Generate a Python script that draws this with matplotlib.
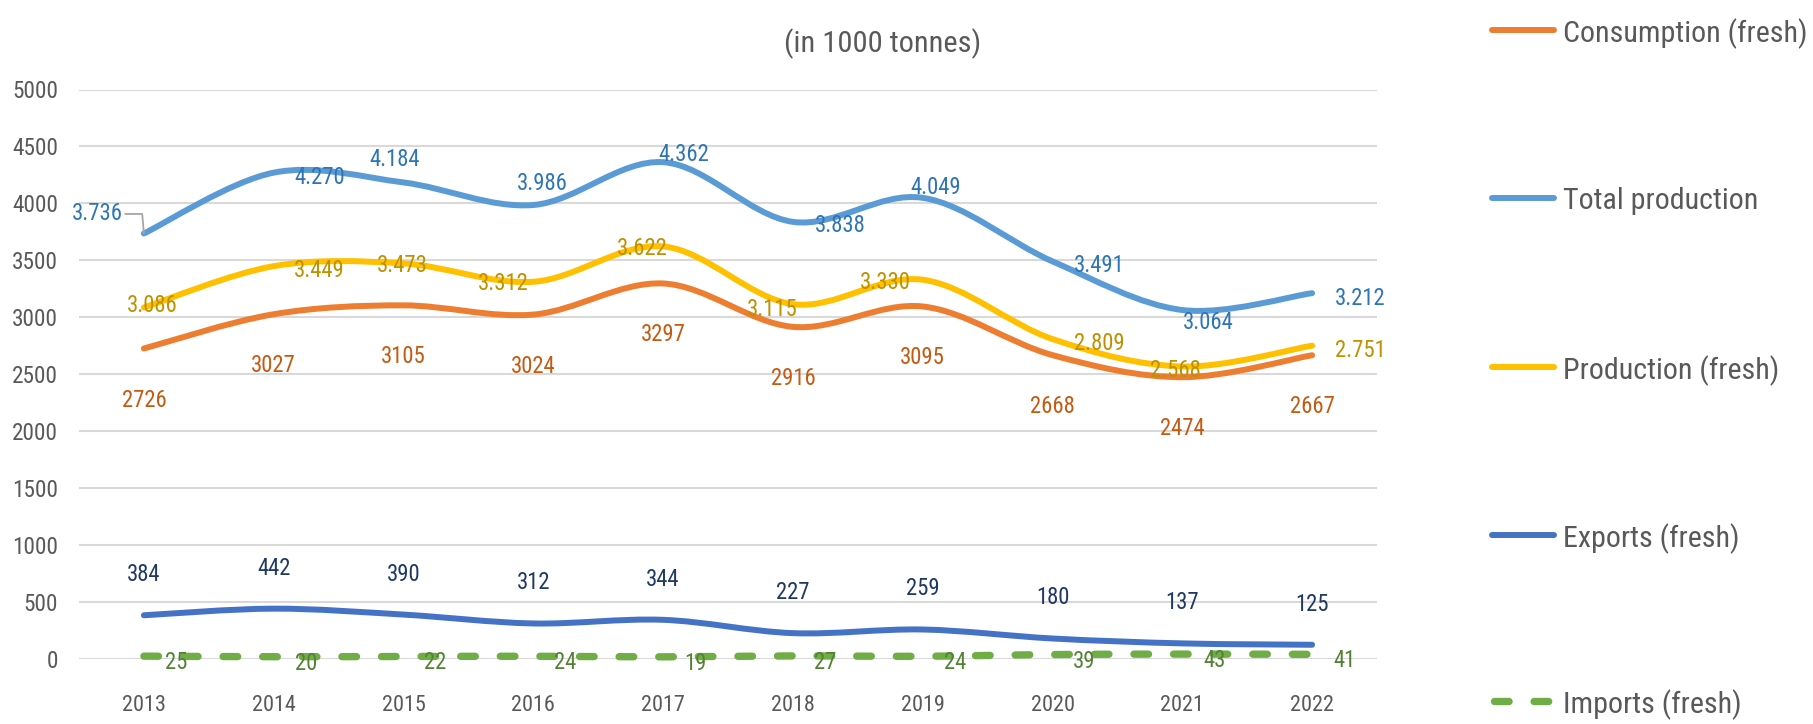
import matplotlib
matplotlib.use('Agg')
import matplotlib.pyplot as plt
from matplotlib.path import Path
from matplotlib.patches import PathPatch
from matplotlib.lines import Line2D
from matplotlib.font_manager import FontProperties, fontManager

# ---------------- data ----------------
years = ['2013', '2014', '2015', '2016', '2017', '2018', '2019', '2020', '2021', '2022']
consumption = [2726, 3027, 3105, 3024, 3297, 2916, 3095, 2668, 2474, 2667]
total_production = [3736, 4270, 4184, 3986, 4362, 3838, 4049, 3491, 3064, 3212]
production_fresh = [3086, 3449, 3473, 3312, 3622, 3115, 3330, 2809, 2568, 2751]
exports = [384, 442, 390, 312, 344, 227, 259, 180, 137, 125]
imports = [25, 20, 22, 24, 19, 27, 24, 39, 43, 41]
y_ticks = [0, 500, 1000, 1500, 2000, 2500, 3000, 3500, 4000, 4500, 5000]
series_names = ['Consumption (fresh)', 'Total production', 'Production (fresh)',
                'Exports (fresh)', 'Imports (fresh)']
title_text = '(in 1000 tonnes)'

# ---------------- styling / layout ----------------
W, H, DPI = 1813, 724, 100
AX_L, AX_R, AX_T, AX_B = 79, 1377, 89.5, 659

c_cons, c_tot, c_prod, c_exp, c_imp = '#ED7D31', '#5B9BD5', '#FFC000', '#4472C4', '#70AD47'
lc_cons, lc_tot, lc_prod, lc_exp, lc_imp = '#C55A11', '#2E75B6', '#BF9000', '#1F3864', '#548235'
grey_txt = '#595959'
grid_col = '#D9D9D9'

# label offsets in pixels (dx right, dy down)
off_tot = [(-47, -22), (46, 2), (-9, -25), (9, -24), (21, -10), (47, 1), (13, -13), (47, 2), (26, 10), (48, 3)]
off_prod = [(8, -5), (46, 2), (-1, 0), (-30, -1), (-21, 0), (-21, 3), (-37, 0), (47, 2), (-7, 1.5), (48, 2)]
off_cons = [(0, 49)] * 10
off_exp = [(0, -43)] * 10
off_imp = [(32, 4)] * 10

avail = {f.name for f in fontManager.ttflist}
FONT = 'DejaVu Sans'
for cand in ['Liberation Sans Narrow', 'Roboto Condensed', 'Open Sans Condensed', 'Liberation Sans']:
    if cand in avail:
        FONT = cand
        break

fig = plt.figure(figsize=(W / DPI, H / DPI), dpi=DPI)
fig.patch.set_facecolor('white')
renderer = fig.canvas.get_renderer()


def fitted_size(sample, target_px, base=20.0):
    fp = FontProperties(family=FONT, size=base, stretch='condensed')
    w, h, d = renderer.get_text_width_height_descent(sample, fp, ismath=False)
    return base * target_px / w


def fprop(size):
    return FontProperties(family=FONT, size=size, stretch='condensed')


fs_legend = fitted_size('Consumption (fresh)', 244)
fs_title = fitted_size(title_text, 196)
fs_label = fitted_size('3.736', 51)
fs_ytick = fitted_size('5000', 46)
fs_xtick = fitted_size('2013', 44)

ax = fig.add_axes([AX_L / W, 1 - AX_B / H, (AX_R - AX_L) / W, (AX_B - AX_T) / H])
ax.set_xlim(-0.5, len(years) - 0.5)
ax.set_ylim(0, 5000)
for s in ax.spines.values():
    s.set_visible(False)
ax.set_yticks(y_ticks)
ax.set_yticklabels([str(t) for t in y_ticks], fontproperties=fprop(fs_ytick), color=grey_txt)
ax.set_xticks(range(len(years)))
ax.set_xticklabels(years, fontproperties=fprop(fs_xtick), color=grey_txt)
ax.tick_params(axis='y', length=0, pad=21 * 72 / DPI)
ax.tick_params(axis='x', length=0, pad=36 * 72 / DPI)
ax.grid(axis='y', color=grid_col, lw=1.5, zorder=0)
ax.set_axisbelow(True)


def smooth_path(vals):
    pts = [(i, v) for i, v in enumerate(vals)]
    n = len(pts)
    verts = [pts[0]]
    codes = [Path.MOVETO]
    for i in range(n - 1):
        p0 = pts[max(i - 1, 0)]
        p1 = pts[i]
        p2 = pts[i + 1]
        p3 = pts[min(i + 2, n - 1)]
        c1 = (p1[0] + (p2[0] - p0[0]) / 6.0, p1[1] + (p2[1] - p0[1]) / 6.0)
        c2 = (p2[0] - (p3[0] - p1[0]) / 6.0, p2[1] - (p3[1] - p1[1]) / 6.0)
        verts += [c1, c2, p2]
        codes += [Path.CURVE4] * 3
    return Path(verts, codes)


LW = 4.3
IMP_LW = 5.3
imp_dash = (0, (1.98, 3.4))

series = [
    (consumption, c_cons, '-', LW, 3),
    (total_production, c_tot, '-', LW, 4),
    (production_fresh, c_prod, '-', LW, 5),
    (exports, c_exp, '-', LW, 6),
    (imports, c_imp, imp_dash, IMP_LW, 7),
]
for vals, col, ls, lw, z in series:
    patch = PathPatch(smooth_path(vals), fill=False, edgecolor=col, lw=lw, linestyle=ls,
                      capstyle='round', joinstyle='round', zorder=z, clip_on=False)
    ax.add_patch(patch)


def dot_fmt(v):
    return f'{v:,}'.replace(',', '.')


def p2pt(v):
    return v * 72.0 / DPI


lab_fp = fprop(fs_label)


def add_labels(vals, offs, col, fmt, leader_first=False):
    for i, (v, (dx, dy)) in enumerate(zip(vals, offs)):
        kw = {}
        if leader_first and i == 0:
            kw['arrowprops'] = dict(arrowstyle='-', color='#A6A6A6', lw=1.3, shrinkA=0, shrinkB=0,
                                    connectionstyle='angle,angleA=0,angleB=95,rad=0')
        ax.annotate(fmt(v), xy=(i, v), xytext=(p2pt(dx), -p2pt(dy)), textcoords='offset points',
                    ha='center', va='center_baseline', color=col, fontproperties=lab_fp,
                    zorder=20, annotation_clip=False, **kw)


add_labels(consumption, off_cons, lc_cons, str)
add_labels(total_production, off_tot, lc_tot, dot_fmt, leader_first=True)
add_labels(production_fresh, off_prod, lc_prod, dot_fmt)
add_labels(exports, off_exp, lc_exp, str)
add_labels(imports, off_imp, lc_imp, str)

# title
fig.text(882.5 / W, 1 - 40 / H, title_text, ha='center', va='center_baseline',
         color=grey_txt, fontproperties=fprop(fs_title))

# legend (manual, right side)
leg_y = [30, 198, 367, 535, 701]
leg_cols = [c_cons, c_tot, c_prod, c_exp, c_imp]
for name, col, y in zip(series_names, leg_cols, leg_y):
    yy = 1 - y / H
    if name.startswith('Imports'):
        ln = Line2D([1494 / W, 1556 / W], [yy, yy], transform=fig.transFigure, color=col,
                    lw=IMP_LW, linestyle=imp_dash, dash_capstyle='round')
    else:
        ln = Line2D([1492 / W, 1554 / W], [yy, yy], transform=fig.transFigure, color=col,
                    lw=LW, solid_capstyle='round')
    fig.add_artist(ln)
    fig.text(1563 / W, yy, name, ha='left', va='center_baseline', color=grey_txt,
             fontproperties=fprop(fs_legend))

fig.savefig('out.png', dpi=DPI, facecolor='white')
